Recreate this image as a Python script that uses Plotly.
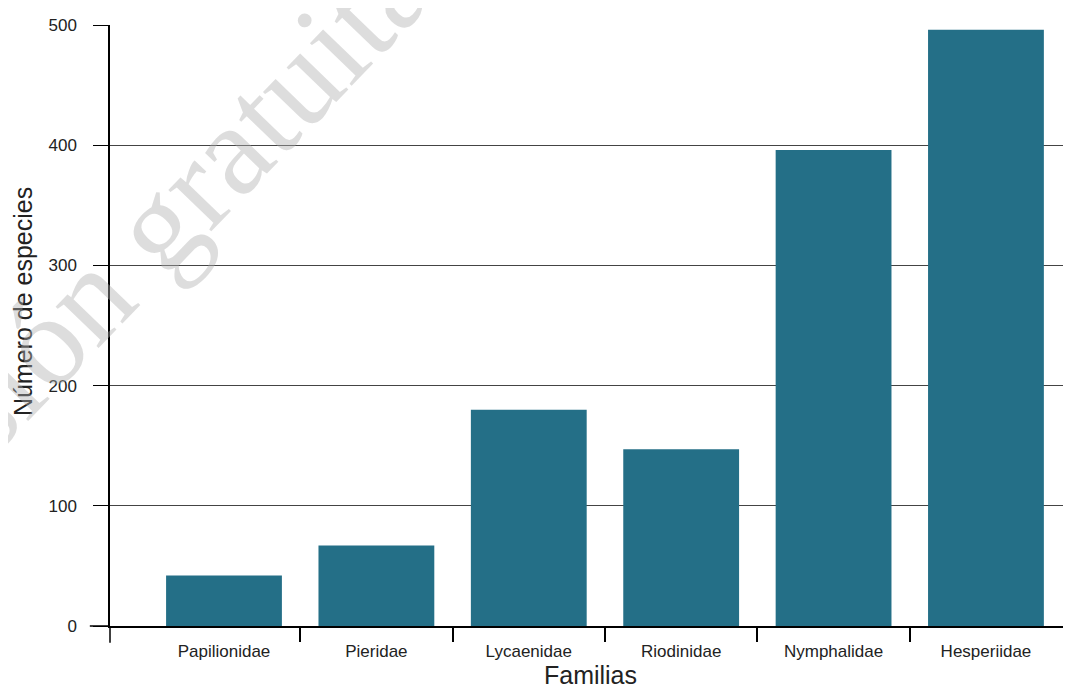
import plotly.graph_objects as go

familias = ["Papilionidae", "Pieridae", "Lycaenidae", "Riodinidae", "Nymphalidae", "Hesperiidae"]
especies = [42, 67, 180, 147, 396, 496]
y_ticks = [0, 100, 200, 300, 400, 500]

pos = list(range(len(familias)))
bounds = [i + 0.5 for i in range(len(familias) - 1)]

FONT = "Liberation Sans, Arial, sans-serif"
BAR = "#246f87"

fig = go.Figure()
fig.add_trace(go.Bar(x=pos, y=especies, width=0.76, marker=dict(color=BAR, line=dict(width=0)),
                     hoverinfo="x+y", showlegend=False))

fig.update_layout(
    width=1071, height=689,
    margin=dict(l=102, r=8, t=12, b=71),
    paper_bgcolor="white", plot_bgcolor="white",
    font=dict(family=FONT, color="#222", size=17),
)
fig.update_xaxes(
    range=[-0.748, 5.558],
    tickmode="array", tickvals=pos, ticktext=familias,
    ticks="", showgrid=False, zeroline=False,
    showline=True, linecolor="black", linewidth=1.5,
    ticklabelstandoff=9,
    tickfont=dict(size=17),
    minor=dict(tickmode="array", tickvals=bounds, ticks="outside", ticklen=14,
               tickcolor="black", tickwidth=1.5, showgrid=False),
    title=dict(text="Familias", font=dict(size=25, color="#222"), standoff=4),
)
fig.update_yaxes(
    range=[0, 500],
    tickmode="array", tickvals=y_ticks,
    ticks="outside", ticklen=15, tickcolor="black", tickwidth=1.2,
    showgrid=True, gridcolor="#444", gridwidth=1,
    zeroline=False,
    showline=True, linecolor="black", linewidth=1.5,
    ticklabelstandoff=13,
    tickfont=dict(size=17),
)

# y-axis line extension below zero
fig.add_shape(type="line", xref="x domain", yref="y domain", x0=0, x1=0, y0=0, y1=-0.028,
              line=dict(color="black", width=1.5))
# zero tick extension
fig.add_shape(type="line", xref="x domain", yref="y domain", x0=-0.021, x1=0, y0=0, y1=0,
              line=dict(color="black", width=1.5))

fig.add_annotation(text="Número de especies", xref="paper", yref="paper", x=-0.0905, y=0.539,
                   textangle=-90, showarrow=False, font=dict(size=25, color="#222"),
                   xanchor="center", yanchor="middle")

# watermark
fig.add_annotation(text="Versión gratuita", xref="paper", yref="paper", x=0.012, y=0.607,
                   textangle=-46, showarrow=False,
                   font=dict(family="Liberation Serif, serif", size=130, color="rgba(175,175,175,0.42)"),
                   xanchor="center", yanchor="middle")

fig.write_html("out.html")
